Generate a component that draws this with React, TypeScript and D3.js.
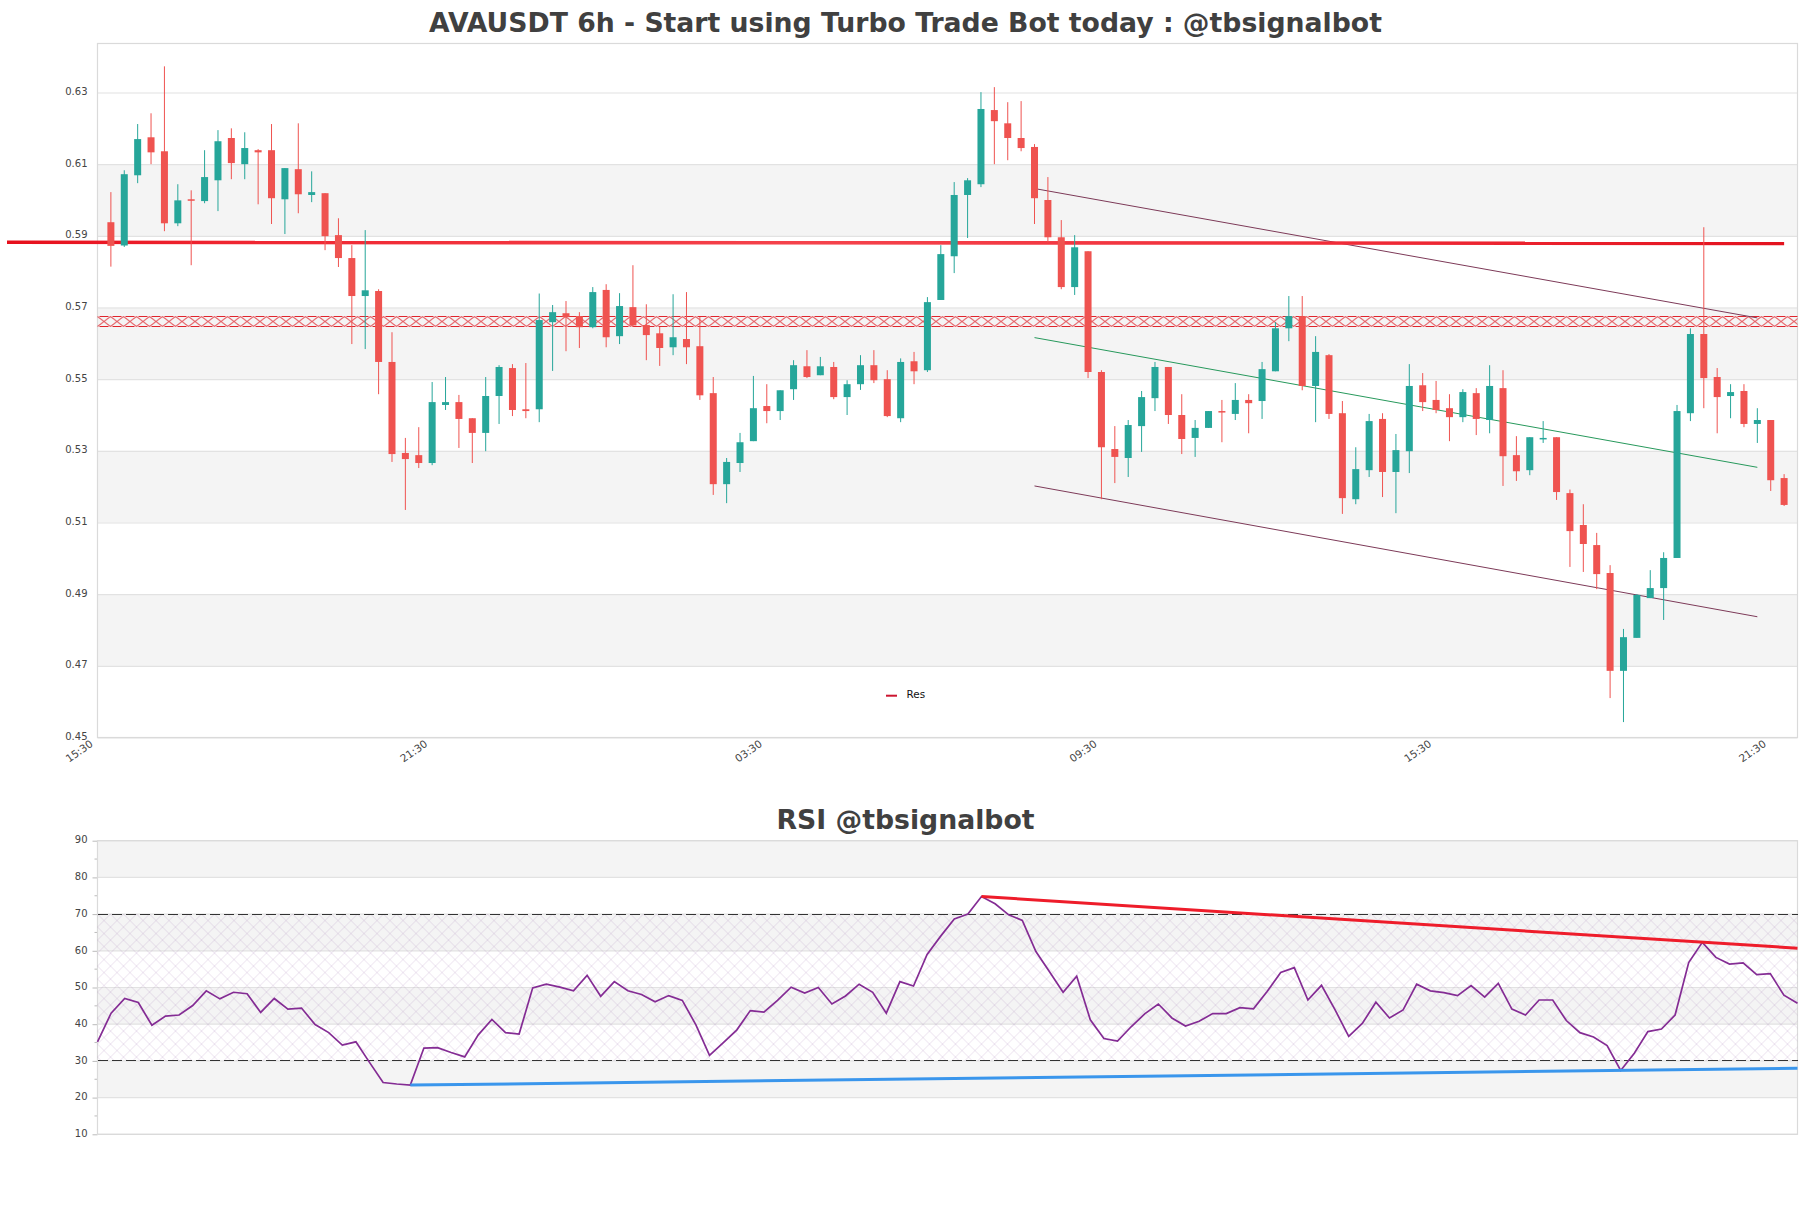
import React, { useEffect, useRef } from "react";
import * as d3 from "d3";

const opens = [
  0.5938, 0.5873, 0.6069, 0.6175, 0.6136, 0.5935, 0.6002, 0.5997, 0.6055, 0.6173,
  0.61, 0.6139, 0.6139, 0.6002, 0.6086, 0.6014, 0.6019, 0.5902, 0.5838, 0.5732,
  0.5746, 0.5548, 0.5294, 0.5288, 0.5266, 0.5428, 0.5436, 0.5391, 0.535, 0.5453,
  0.5531, 0.5416, 0.5416, 0.5659, 0.5684, 0.5676, 0.5645, 0.5749, 0.562, 0.5701,
  0.5651, 0.5628, 0.5589, 0.5612, 0.5592, 0.5461, 0.5207, 0.5266, 0.5327, 0.5425,
  0.5411, 0.5472, 0.5536, 0.5511, 0.5534, 0.545, 0.5486, 0.5539, 0.55, 0.5391,
  0.555, 0.5525, 0.5721, 0.5843, 0.6014, 0.6044, 0.6251, 0.6214, 0.6173, 0.6148,
  0.6, 0.5896, 0.5757, 0.5857, 0.552, 0.5305, 0.528, 0.5369, 0.5447, 0.5534,
  0.54, 0.5336, 0.5364, 0.5411, 0.5403, 0.5442, 0.5439, 0.5522, 0.5642, 0.5676,
  0.5481, 0.5567, 0.5405, 0.5165, 0.5246, 0.5389, 0.5241, 0.5299, 0.5483, 0.5442,
  0.5419, 0.5394, 0.5461, 0.5386, 0.5475, 0.5288, 0.5246, 0.5333, 0.5338, 0.5182,
  0.5093, 0.5037, 0.4959, 0.4686, 0.4778, 0.4889, 0.4917, 0.5001, 0.5405, 0.5626,
  0.5506, 0.5453, 0.5467, 0.5375, 0.5386, 0.5224,
];
const highs = [
  0.6022, 0.6083, 0.6212, 0.6242, 0.6373, 0.6044, 0.6027, 0.6139, 0.6195, 0.62,
  0.6189, 0.6142, 0.6212, 0.6089, 0.6214, 0.608, 0.6019, 0.5949, 0.5874, 0.5916,
  0.5751, 0.5631, 0.5336, 0.5366, 0.5492, 0.5506, 0.5456, 0.5391, 0.5506, 0.5539,
  0.5542, 0.5545, 0.5739, 0.5707, 0.5718, 0.5687, 0.5757, 0.5765, 0.574, 0.5818,
  0.5709, 0.5646, 0.5737, 0.5743, 0.5674, 0.5506, 0.528, 0.535, 0.5509, 0.5486,
  0.5469, 0.5553, 0.5581, 0.5562, 0.5548, 0.5497, 0.5567, 0.5581, 0.5525, 0.5558,
  0.5576, 0.5729, 0.5874, 0.605, 0.6061, 0.6301, 0.6315, 0.6273, 0.6276, 0.6156,
  0.6064, 0.5944, 0.5902, 0.5857, 0.5525, 0.5369, 0.5386, 0.5467, 0.5548, 0.5534,
  0.5458, 0.5386, 0.5411, 0.5442, 0.5489, 0.5458, 0.5548, 0.5659, 0.5732, 0.5732,
  0.562, 0.557, 0.5439, 0.531, 0.5403, 0.5405, 0.5347, 0.5542, 0.5517, 0.5495,
  0.5458, 0.5472, 0.5475, 0.5539, 0.5525, 0.5341, 0.5338, 0.5383, 0.5338, 0.5192,
  0.5151, 0.5071, 0.4981, 0.4803, 0.49, 0.4967, 0.5017, 0.5428, 0.5642, 0.5924,
  0.5531, 0.5486, 0.5486, 0.5419, 0.5386, 0.5235,
];
const lows = [
  0.5814, 0.5869, 0.6047, 0.61, 0.5913, 0.5927, 0.5818, 0.5991, 0.5969, 0.6058,
  0.6058, 0.5988, 0.5933, 0.5905, 0.5963, 0.5994, 0.586, 0.5813, 0.5598, 0.5584,
  0.5458, 0.5269, 0.5135, 0.5252, 0.526, 0.5414, 0.5308, 0.5266, 0.5299, 0.5375,
  0.5397, 0.5391, 0.538, 0.5523, 0.5578, 0.5587, 0.5642, 0.5589, 0.5598, 0.5646,
  0.5553, 0.5537, 0.5567, 0.5542, 0.5442, 0.5177, 0.5154, 0.5241, 0.5327, 0.5377,
  0.5386, 0.5442, 0.5503, 0.5511, 0.5444, 0.54, 0.547, 0.5489, 0.5394, 0.538,
  0.5486, 0.552, 0.5721, 0.5796, 0.5894, 0.6036, 0.61, 0.6111, 0.6136, 0.5933,
  0.5882, 0.5751, 0.5735, 0.5503, 0.5165, 0.521, 0.5227, 0.5297, 0.5411, 0.5375,
  0.5291, 0.5283, 0.5364, 0.5324, 0.5386, 0.5349, 0.5389, 0.5522, 0.5606, 0.5469,
  0.538, 0.5389, 0.5124, 0.5151, 0.5227, 0.5171, 0.5126, 0.5238, 0.5411, 0.5405,
  0.5327, 0.538, 0.5344, 0.5349, 0.5202, 0.5216, 0.5232, 0.5322, 0.5163, 0.4976,
  0.4962, 0.4914, 0.461, 0.4543, 0.4778, 0.4889, 0.4828, 0.5001, 0.5383, 0.5419,
  0.5349, 0.5391, 0.5366, 0.5322, 0.5188, 0.5146,
];
const closes = [
  0.5872, 0.6072, 0.617, 0.6133, 0.5935, 0.5999, 0.5999, 0.6064, 0.6164, 0.6103,
  0.6145, 0.6133, 0.6005, 0.6089, 0.6016, 0.6022, 0.5899, 0.5838, 0.5732, 0.5748,
  0.5548, 0.5291, 0.5277, 0.5266, 0.5436, 0.5436, 0.5389, 0.535, 0.5453, 0.5534,
  0.5414, 0.5411, 0.5665, 0.5687, 0.5673, 0.5645, 0.5743, 0.5617, 0.5704, 0.565,
  0.5623, 0.5587, 0.5617, 0.5589, 0.5455, 0.5207, 0.5269, 0.5324, 0.5419, 0.5411,
  0.5469, 0.5539, 0.5506, 0.5536, 0.545, 0.5486, 0.5539, 0.5497, 0.5397, 0.5548,
  0.5522, 0.5715, 0.5849, 0.6014, 0.6055, 0.6254, 0.622, 0.6173, 0.6145, 0.6005,
  0.5896, 0.5757, 0.5868, 0.552, 0.531, 0.5283, 0.5372, 0.545, 0.5534, 0.54,
  0.5333, 0.5364, 0.5411, 0.5408, 0.5442, 0.5433, 0.5528, 0.5642, 0.5676, 0.5481,
  0.5576, 0.5403, 0.5168, 0.5249, 0.5383, 0.5241, 0.5302, 0.5481, 0.5436, 0.5414,
  0.5394, 0.5464, 0.5389, 0.5481, 0.5285, 0.5243, 0.5338, 0.5336, 0.5185, 0.5076,
  0.504, 0.4956, 0.4686, 0.478, 0.4898, 0.4917, 0.5001, 0.5411, 0.5626, 0.5503,
  0.545, 0.5464, 0.5375, 0.5386, 0.5218, 0.5149,
];

const rsiValues = [
  35.2, 43.0, 47.0, 45.9, 39.7, 42.2, 42.5, 45.1, 49.1, 46.9,
  48.7, 48.3, 43.2, 47.0, 44.1, 44.4, 39.9, 37.7, 34.3, 35.2,
  29.6, 24.1, 23.7, 23.4, 33.5, 33.6, 32.3, 31.1, 37.1, 41.3,
  37.7, 37.3, 49.9, 50.9, 50.1, 49.1, 53.3, 47.6, 51.6, 49.1,
  48.1, 46.1, 47.8, 46.5, 39.8, 31.5, 34.9, 38.4, 43.7, 43.3,
  46.5, 50.1, 48.5, 50.0, 45.5, 47.7, 50.9, 48.7, 43.0, 51.6,
  50.4, 59.0, 64.0, 68.7, 70.0, 74.8, 72.8, 69.8, 68.3, 59.8,
  54.3, 48.7, 53.1, 41.2, 36.1, 35.4, 39.3, 42.8, 45.5, 41.7,
  39.5, 40.8, 42.9, 42.9, 44.5, 44.2, 48.9, 54.1, 55.4, 46.6,
  50.6, 43.9, 36.7, 40.2, 46.0, 41.7, 43.9, 50.9, 49.1, 48.6,
  47.8, 50.5, 47.4, 51.1, 44.1, 42.5, 46.6, 46.6, 41.0, 37.7,
  36.5, 34.2, 27.4, 32.1, 38.0, 38.7, 42.5, 56.8, 62.3, 58.2,
  56.4, 56.7, 53.5, 53.8, 47.9, 45.7,
];

const priceTicks = [0.45, 0.47, 0.49, 0.51, 0.53, 0.55, 0.57, 0.59, 0.61, 0.63];
const priceBands = [[0.59, 0.61], [0.55, 0.57], [0.51, 0.53], [0.47, 0.49]];
const timeLabels = ["15:30", "21:30", "03:30", "09:30", "15:30", "21:30"];
const timeTickIdx = [0, 25, 50, 75, 100, 125];
const rsiTicks = [10, 20, 30, 40, 50, 60, 70, 80, 90];
const rsiMinor = [15, 25, 35, 45, 55, 65, 75, 85];
const rsiBands = [[80, 90], [60, 70], [40, 50], [20, 30]];
const rsiLevels = [70, 30];

// index / price pairs
const resLine: [number, number][] = [[-6.76, 0.5882], [126, 0.5879]];
const supportZone = [0.5645, 0.5676];
const channelTop: [number, number][] = [[70, 0.6032], [124, 0.5671]];
const channelMid: [number, number][] = [[70, 0.5616], [124, 0.5254]];
const channelLow: [number, number][] = [[70, 0.5202], [124, 0.4837]];
const rsiResLine: [number, number][] = [[65, 74.8], [125, 60.7]];
const rsiSupLine: [number, number][] = [[23, 23.4], [125, 28.0]];

const GREEN = "#26a69a";
const RED = "#ef5350";
const FONT = "'DejaVu Sans', sans-serif";

const App: React.FC = () => {
  const svgRef = useRef<SVGSVGElement | null>(null);

  useEffect(() => {
    const width = 1811, height = 1208;
    const svg = d3.select(svgRef.current).attr("width", width).attr("height", height);
    svg.selectAll("*").remove();

    const left = 97.5, right = 1797.5;

    // Scales
    const xCandle = d3.scaleLinear().domain([0, 127]).range([left, right]);
    const xRsi = d3.scaleLinear().domain([0, 125]).range([left, right]);
    const yPrice = d3.scaleLinear().domain([0.45, 0.63]).range([737.5, 92.5]);
    const yRsi = d3.scaleLinear().domain([10, 90]).range([1134.3, 840.7]);
    const priceTop = 43.5;

    const defs = svg.append("defs");

    // X hatch of the support zone
    const zoneTop = Math.round(yPrice(supportZone[1]));
    const zoneH = Math.round(yPrice(supportZone[0]) - yPrice(supportZone[1]));
    const tileW = 13;
    const zonePat = defs.append("pattern")
      .attr("id", "zoneHatch")
      .attr("patternUnits", "userSpaceOnUse")
      .attr("x", left)
      .attr("y", zoneTop)
      .attr("width", tileW)
      .attr("height", zoneH);
    zonePat.append("path")
      .attr("d", `M0,0.5L${tileW},${zoneH - 0.5}M${tileW},0.5L0,${zoneH - 0.5}M2,0.5H11M2,${zoneH - 0.5}H11`)
      .attr("stroke", "#e0242c")
      .attr("stroke-width", 1)
      .attr("fill", "none");

    // Cross hatch of the RSI range
    const rsiPat = defs.append("pattern")
      .attr("id", "rsiHatch")
      .attr("patternUnits", "userSpaceOnUse")
      .attr("x", left)
      .attr("y", yRsi(70))
      .attr("width", 13)
      .attr("height", 13);
    rsiPat.append("path")
      .attr("d", "M0,0L13,13M13,0L0,13")
      .attr("stroke", "#8d5fa6")
      .attr("stroke-opacity", 0.24)
      .attr("stroke-width", 0.8)
      .attr("fill", "none");

    // Resistance line fades a little towards the middle
    const resGrad = defs.append("linearGradient")
      .attr("id", "resGrad")
      .attr("gradientUnits", "userSpaceOnUse")
      .attr("x1", 7).attr("x2", 1785).attr("y1", 0).attr("y2", 0);
    [[0, "#e60f1c"], [0.12, "#ef2530"], [0.45, "#f5434c"], [0.75, "#f02c38"], [1, "#e3121e"]].forEach(([o, c]) => {
      resGrad.append("stop").attr("offset", o as number).attr("stop-color", c as string);
    });

    // Titles
    const title = (text: string, y: number) =>
      svg.append("text")
        .attr("x", 905.5)
        .attr("y", y)
        .attr("text-anchor", "middle")
        .attr("font-family", FONT)
        .attr("font-weight", "bold")
        .attr("font-size", 26.7)
        .attr("fill", "#404040")
        .text(text);
    title("AVAUSDT 6h - Start using Turbo Trade Bot today : @tbsignalbot", 32);
    title("RSI @tbsignalbot", 828.5);

    // Bands
    svg.append("g").selectAll("rect").data(priceBands).enter().append("rect")
      .attr("x", left).attr("width", right - left)
      .attr("y", d => yPrice(d[1]))
      .attr("height", d => yPrice(d[0]) - yPrice(d[1]))
      .attr("fill", "#f4f4f4");
    svg.append("g").selectAll("rect").data(rsiBands).enter().append("rect")
      .attr("x", left).attr("width", right - left)
      .attr("y", d => yRsi(d[1]))
      .attr("height", d => yRsi(d[0]) - yRsi(d[1]))
      .attr("fill", "#f4f4f4");

    // Price axis
    const priceAxis = svg.append("g")
      .attr("transform", `translate(${left},0)`)
      .call(d3.axisLeft(yPrice).tickValues(priceTicks).tickFormat(d3.format(".2f") as any).tickSize(0).tickPadding(10));
    priceAxis.select(".domain").remove();
    priceAxis.selectAll("line")
      .attr("x2", right - left)
      .attr("stroke", "#e2e2e2")
      .attr("stroke-width", 1.2);
    priceAxis.selectAll("text")
      .attr("font-family", FONT).attr("font-size", 10).attr("fill", "#444")
      .attr("dy", "0.2em");

    // Frame of the price panel
    svg.append("rect")
      .attr("x", left).attr("y", priceTop)
      .attr("width", right - left).attr("height", yPrice(0.45) - priceTop)
      .attr("fill", "none").attr("stroke", "#dadada").attr("stroke-width", 1.2);

    // Time labels
    svg.append("g").selectAll("text").data(timeLabels).enter().append("text")
      .attr("transform", (_, i) => `translate(${xCandle(timeTickIdx[i]) - 3.8},745.5) rotate(-35)`)
      .attr("text-anchor", "end")
      .attr("font-family", FONT).attr("font-size", 10.5).attr("fill", "#444")
      .text(d => d);

    // Support zone
    svg.append("rect")
      .attr("x", left).attr("width", right - left)
      .attr("y", zoneTop).attr("height", zoneH)
      .attr("fill", "url(#zoneHatch)");

    // Trend lines
    const priceLine = d3.line<[number, number]>().x(d => xCandle(d[0])).y(d => yPrice(d[1]));
    const channels: [[number, number][], string][] = [
      [channelTop, "#7d3a58"],
      [channelMid, "#27995c"],
      [channelLow, "#7d3a58"],
    ];
    channels.forEach(([pts, color]) => {
      svg.append("path").attr("d", priceLine(pts)).attr("fill", "none")
        .attr("stroke", color).attr("stroke-width", 1);
    });
    svg.append("path").attr("d", priceLine(resLine)).attr("fill", "none")
      .attr("stroke", "url(#resGrad)").attr("stroke-width", 3.6);

    // Candles
    const candles = opens.map((o, i) => ({ i: i + 1, o, h: highs[i], l: lows[i], c: closes[i] }));
    const bodyW = 7;
    const candle = svg.append("g").selectAll("g").data(candles).enter().append("g")
      .attr("fill", d => (d.c >= d.o ? GREEN : RED))
      .attr("stroke", d => (d.c >= d.o ? GREEN : RED));
    candle.append("line")
      .attr("x1", d => xCandle(d.i)).attr("x2", d => xCandle(d.i))
      .attr("y1", d => yPrice(d.h)).attr("y2", d => yPrice(d.l))
      .attr("stroke-width", 1);
    candle.append("rect")
      .attr("x", d => xCandle(d.i) - bodyW / 2)
      .attr("y", d => yPrice(Math.max(d.o, d.c)))
      .attr("width", bodyW)
      .attr("height", d => Math.max(1.5, Math.abs(yPrice(d.o) - yPrice(d.c))))
      .attr("stroke", "none");

    // Legend
    svg.append("line")
      .attr("x1", 886).attr("x2", 897).attr("y1", 695.7).attr("y2", 695.7)
      .attr("stroke", "#cc1530").attr("stroke-width", 2);
    svg.append("text")
      .attr("x", 906.5).attr("y", 698)
      .attr("font-family", FONT).attr("font-size", 10.4).attr("fill", "#111")
      .text("Res");

    // RSI axis
    const rsiAxis = svg.append("g")
      .attr("transform", `translate(${left},0)`)
      .call(d3.axisLeft(yRsi).tickValues(rsiTicks).tickFormat(d3.format("d") as any).tickSize(5).tickPadding(5));
    rsiAxis.select(".domain").remove();
    rsiAxis.selectAll("line").attr("stroke", "#bbb").attr("stroke-width", 1);
    rsiAxis.selectAll("text")
      .attr("font-family", FONT).attr("font-size", 10).attr("fill", "#444")
      .attr("dy", "0.22em");
    svg.append("g").selectAll("line").data(rsiMinor).enter().append("line")
      .attr("x1", left - 3).attr("x2", left)
      .attr("y1", d => yRsi(d)).attr("y2", d => yRsi(d))
      .attr("stroke", "#bbb");
    svg.append("g").selectAll("line").data(rsiTicks).enter().append("line")
      .attr("x1", left).attr("x2", right)
      .attr("y1", d => yRsi(d)).attr("y2", d => yRsi(d))
      .attr("stroke", "#e2e2e2").attr("stroke-width", 1.2);
    svg.append("rect")
      .attr("x", left).attr("y", yRsi(90))
      .attr("width", right - left).attr("height", yRsi(10) - yRsi(90))
      .attr("fill", "none").attr("stroke", "#dadada").attr("stroke-width", 1.2);

    // RSI hatch and levels
    svg.append("rect")
      .attr("x", left).attr("width", right - left)
      .attr("y", yRsi(70)).attr("height", yRsi(30) - yRsi(70))
      .attr("fill", "url(#rsiHatch)");
    svg.append("g").selectAll("line").data(rsiLevels).enter().append("line")
      .attr("x1", left).attr("x2", right)
      .attr("y1", d => yRsi(d)).attr("y2", d => yRsi(d))
      .attr("stroke", "#333").attr("stroke-width", 1)
      .attr("stroke-dasharray", "10,4")
      .attr("shape-rendering", "crispEdges");

    // RSI line and its trend lines
    const rsiPath = d3.line<number>().x((_, i) => xRsi(i)).y(d => yRsi(d));
    const rsiTrend = d3.line<[number, number]>().x(d => xRsi(d[0])).y(d => yRsi(d[1]));
    svg.append("path").attr("d", rsiPath(rsiValues)).attr("fill", "none")
      .attr("stroke", "#842c94").attr("stroke-width", 1.7);
    svg.append("path").attr("d", rsiTrend(rsiResLine)).attr("fill", "none")
      .attr("stroke", "#ee1c2a").attr("stroke-width", 3);
    svg.append("path").attr("d", rsiTrend(rsiSupLine)).attr("fill", "none")
      .attr("stroke", "#3a96ec").attr("stroke-width", 3);
  }, []);

  return <svg ref={svgRef} style={{ position: "absolute", left: 0, top: 0, display: "block", background: "#fff" }}></svg>;
};

export default App;
